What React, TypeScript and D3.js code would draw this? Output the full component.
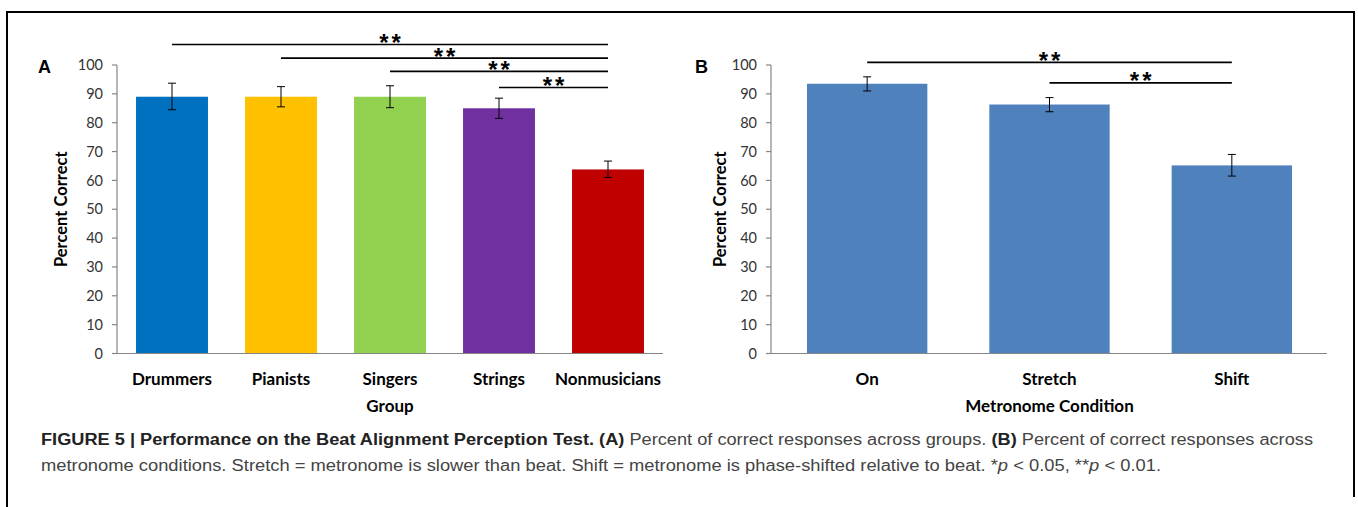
import React from "react";
import * as d3 from "d3";

const groups = ["Drummers", "Pianists", "Singers", "Strings", "Nonmusicians"];
const groupValues = [89, 89, 89, 85, 63.8];
const groupErrLow = [84.5, 85.5, 85.2, 81.5, 61];
const groupErrHigh = [93.7, 92.5, 92.8, 88.5, 66.7];
const groupColors = ["#0070C0", "#FFC000", "#92D050", "#7030A0", "#C00000"];
const groupSig = [
  { from: "Drummers", to: "Nonmusicians", label: "**" },
  { from: "Pianists", to: "Nonmusicians", label: "**" },
  { from: "Singers", to: "Nonmusicians", label: "**" },
  { from: "Strings", to: "Nonmusicians", label: "**" },
];
const groupSigLevels = [107.1, 102.4, 97.8, 92.2];

const conditions = ["On", "Stretch", "Shift"];
const condValues = [93.5, 86.3, 65.2];
const condErrLow = [91, 83.8, 61.5];
const condErrHigh = [95.9, 88.7, 69];
const condSig = [
  { from: "On", to: "Shift", label: "**" },
  { from: "Stretch", to: "Shift", label: "**" },
];
const condSigLevels = [100.9, 93.8];

const yTicks = [0, 10, 20, 30, 40, 50, 60, 70, 80, 90, 100];

const chartFont = "Lato, 'Open Sans', sans-serif";
const capFont = "'Liberation Sans Narrow', 'Liberation Sans', Arial, sans-serif";
const starFont = "'Liberation Sans', Arial, sans-serif";

type PanelProps = {
  letter: string;
  cats: string[];
  values: number[];
  lo: number[];
  hi: number[];
  colors: string[];
  sig: { from: string; to: string; label: string }[];
  sigLevels: number[];
  axisX0: number;
  axisX1: number;
  x0: number;
  x1: number;
  pad: number;
  xLabel: string;
  letterX: number;
  yLabelX: number;
};

function Panel(p: PanelProps) {
  const y = d3.scaleLinear().domain([0, 100]).range([353.5, 65]);
  const x = d3
    .scaleBand<string>()
    .domain(p.cats)
    .range([p.x0, p.x1])
    .paddingInner(p.pad)
    .paddingOuter(p.pad / 2);
  const bw = x.bandwidth();
  const cx = (c: string) => (x(c) as number) + bw / 2;
  const midX = (cx(p.cats[0]) + cx(p.cats[p.cats.length - 1])) / 2;
  return (
    <g>
      <text x={p.letterX} y={73} fontFamily={starFont} fontWeight="bold" fontSize={18} fill="#000">
        {p.letter}
      </text>
      {/* y axis */}
      <line x1={p.axisX0} x2={p.axisX0} y1={y(100)} y2={y(0)} stroke="#868686" strokeWidth={1.2} />
      {yTicks.map((t) => (
        <g key={t}>
          <line x1={p.axisX0 - 5} x2={p.axisX0} y1={y(t)} y2={y(t)} stroke="#868686" strokeWidth={1.2} />
          <text x={p.axisX0 - 14} y={y(t)} dy="0.36em" textAnchor="end" fontFamily={chartFont} fontSize={14.5} fill="#333">
            {t}
          </text>
        </g>
      ))}
      {/* bars */}
      {p.cats.map((c, i) => (
        <rect key={c} x={x(c)} y={y(p.values[i])} width={bw} height={y(0) - y(p.values[i])} fill={p.colors[i]} />
      ))}
      {/* x axis */}
      <line x1={p.axisX0} x2={p.axisX1} y1={y(0)} y2={y(0)} stroke="#868686" strokeWidth={1.2} />
      {/* error bars */}
      {p.cats.map((c, i) => (
        <g key={c} stroke="#000" strokeWidth={1}>
          <line x1={cx(c)} x2={cx(c)} y1={y(p.lo[i])} y2={y(p.hi[i])} />
          <line x1={cx(c) - 4} x2={cx(c) + 4} y1={y(p.lo[i])} y2={y(p.lo[i])} />
          <line x1={cx(c) - 4} x2={cx(c) + 4} y1={y(p.hi[i])} y2={y(p.hi[i])} />
        </g>
      ))}
      {/* category labels */}
      {p.cats.map((c) => (
        <text key={c} x={cx(c)} y={385} textAnchor="middle" fontFamily={chartFont} fontWeight="bold" fontSize={17} fill="#000">
          {c}
        </text>
      ))}
      <text x={midX} y={412} textAnchor="middle" fontFamily={chartFont} fontWeight="bold" fontSize={17} fill="#000">
        {p.xLabel}
      </text>
      <text
        transform={`translate(${p.yLabelX},${(y(0) + y(100)) / 2}) rotate(-90)`}
        textAnchor="middle"
        fontFamily={chartFont}
        fontWeight="bold"
        fontSize={16.5}
        fill="#000"
      >
        Percent Correct
      </text>
      {/* significance */}
      {p.sig.map((s, i) => {
        const a = cx(s.from);
        const b = cx(s.to);
        const ly = y(p.sigLevels[i]);
        return (
          <g key={i}>
            <line x1={a} x2={b} y1={ly} y2={ly} stroke="#000" strokeWidth={1.6} />
            <text
              x={(a + b) / 2 + 1.5}
              y={ly + 6.5}
              textAnchor="middle"
              fontFamily={starFont}
              fontWeight="bold"
              fontSize={24}
              letterSpacing={3}
              fill="#000"
            >
              {s.label}
            </text>
          </g>
        );
      })}
    </g>
  );
}

export default function App() {
  return (
    <svg width={1358} height={507} style={{ position: "absolute", left: 0, top: 0, background: "#fff" }}>
      <rect x={0} y={0} width={1358} height={507} fill="#fff" />
      <path d="M7,507 L7,12 L1354,12 L1354,497" fill="none" stroke="#000" strokeWidth={2} />
      <Panel
        letter="A"
        cats={groups}
        values={groupValues}
        lo={groupErrLow}
        hi={groupErrHigh}
        colors={groupColors}
        sig={groupSig}
        sigLevels={groupSigLevels}
        axisX0={117}
        axisX1={663}
        x0={117.5}
        x1={662.5}
        pad={0.34}
        xLabel="Group"
        letterX={38}
        yLabelX={66.5}
      />
      <Panel
        letter="B"
        cats={conditions}
        values={condValues}
        lo={condErrLow}
        hi={condErrHigh}
        colors={conditions.map(() => "#4F81BD")}
        sig={condSig}
        sigLevels={condSigLevels}
        axisX0={771}
        axisX1={1327}
        x0={776}
        x1={1323}
        pad={0.34}
        xLabel="Metronome Condition"
        letterX={695}
        yLabelX={726}
      />
      <text x={41} y={445} fontFamily={capFont} fontSize={16} fill="#444" textLength={1272} lengthAdjust="spacingAndGlyphs">
        <tspan fontWeight="bold" fill="#222">FIGURE 5 | Performance on the Beat Alignment Perception Test. (A)</tspan>
        <tspan> Percent of correct responses across groups. </tspan>
        <tspan fontWeight="bold" fill="#222">(B)</tspan>
        <tspan> Percent of correct responses across</tspan>
      </text>
      <text x={41} y={471} fontFamily={capFont} fontSize={16} fill="#444" textLength={1120} lengthAdjust="spacingAndGlyphs">
        metronome conditions. Stretch = metronome is slower than beat. Shift = metronome is phase-shifted relative to beat. *
        <tspan fontStyle="italic">p</tspan> {"<"} 0.05, **<tspan fontStyle="italic">p</tspan> {"<"} 0.01.
      </text>
    </svg>
  );
}
